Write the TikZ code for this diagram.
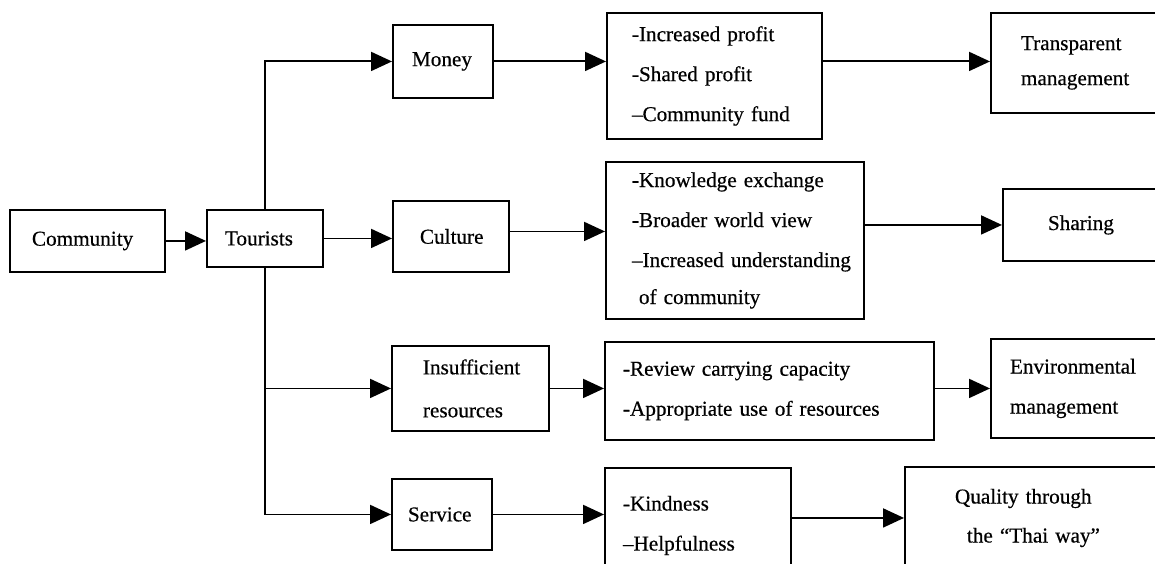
\documentclass[tikz,border=0pt]{standalone}
\usepackage{fontspec}
\setmainfont{Liberation Serif}[FakeBold=0.5]
\usetikzlibrary{arrows.meta}
\newcommand\lpad[2]{\leftskip=#1\relax #2\par}
\begin{document}
\begin{tikzpicture}[x=1pt,y=-1pt,
  box/.style={draw, line width=1.9pt, inner ysep=0pt, inner xsep=0pt, align=left,
    font=\fontsize{21.2}{40}\selectfont, anchor=north west},
  arr/.style={line width=1.9pt, -{Triangle[length=21pt,width=19pt]}},
]
\useasboundingbox (0,0) rectangle (1155,564);
\clip (0,0) rectangle (1155,564);
% column 1-2
\node[box, text width=155pt, minimum height=62pt] (comm) at (9,209) {\lpad{22pt}{Community}};
\node[box, text width=116pt, minimum height=57pt] (tour) at (206,209) {\lpad{18pt}{Tourists}};
% column 3
\node[box, text width=100pt, minimum height=73pt] (money) at (392,24) {\lpad{19pt}{Money}};
\node[box, text width=116pt, minimum height=71pt] (culture) at (392,200) {\lpad{27pt}{Culture}};
\node[box, text width=157pt, minimum height=85pt] (insuff) at (391,345) {\lpad{31pt}{Insufficient\\[3pt]resources}};
\node[box, text width=100pt, minimum height=71pt] (service) at (391,478) {\lpad{16pt}{Service}};
% column 4
\node[box, text width=215pt, minimum height=126pt] (mlist) at (606,12) {\lpad{25pt}{-Increased profit\\-Shared profit\\--Community fund}};
\node[box, text width=258pt, minimum height=157pt] (clist) at (605,161) {\lpad{26pt}{-Knowledge exchange\\-Broader world view\\--Increased understanding\\[-3pt]\hspace*{7pt}of community}};
\node[box, text width=329pt, minimum height=98pt] (ilist) at (604,341) {\lpad{18pt}{-Review carrying capacity\\-Appropriate use of resources}};
\node[box, text width=186pt, minimum height=115pt] (klist) at (604,467) {\lpad{18pt}{-Kindness\\--Helpfulness}};
% column 5
\node[box, text width=220pt, minimum height=100pt] (transp) at (990,12) {\lpad{30pt}{Transparent\\[-5pt]management}};
\node[box, text width=220pt, minimum height=72pt] (sharing) at (1002,188) {\lpad{45pt}{Sharing}};
\node[box, text width=220pt, minimum height=99pt] (env) at (990,338) {\lpad{19pt}{Environmental\\management}};
\node[box, text width=300pt, minimum height=102pt] (quality) at (904,466) {\lpad{50pt}{Quality through\\[-1pt]\hspace*{12pt}the ``Thai way''}};
% connectors
\draw[arr] (comm.east) -- (comm.east -| tour.west);
\draw[arr] (tour.north) |- (money.west);
\draw[arr] (tour.east) -- (tour.east -| culture.west);
\draw[arr] (tour.south) |- (insuff.west);
\draw[arr] (tour.south) |- (service.west);
\draw[arr] (money.east) -- (money.east -| mlist.west);
\draw[arr] (money.east -| mlist.east) -- (money.east -| transp.west);
\draw[arr] ([yshift=5pt]culture.east) -- ([yshift=5pt]culture.east -| clist.west);
\draw[arr] (clist.east |- sharing.west) -- (sharing.west);
\draw[arr] (insuff.east) -- (insuff.east -| ilist.west);
\draw[arr] (ilist.east |- env.west) -- (env.west);
\draw[arr] (service.east) -- (service.east -| klist.west);
\draw[arr] (klist.east |- quality.west) -- (quality.west);
\end{tikzpicture}
\end{document}
